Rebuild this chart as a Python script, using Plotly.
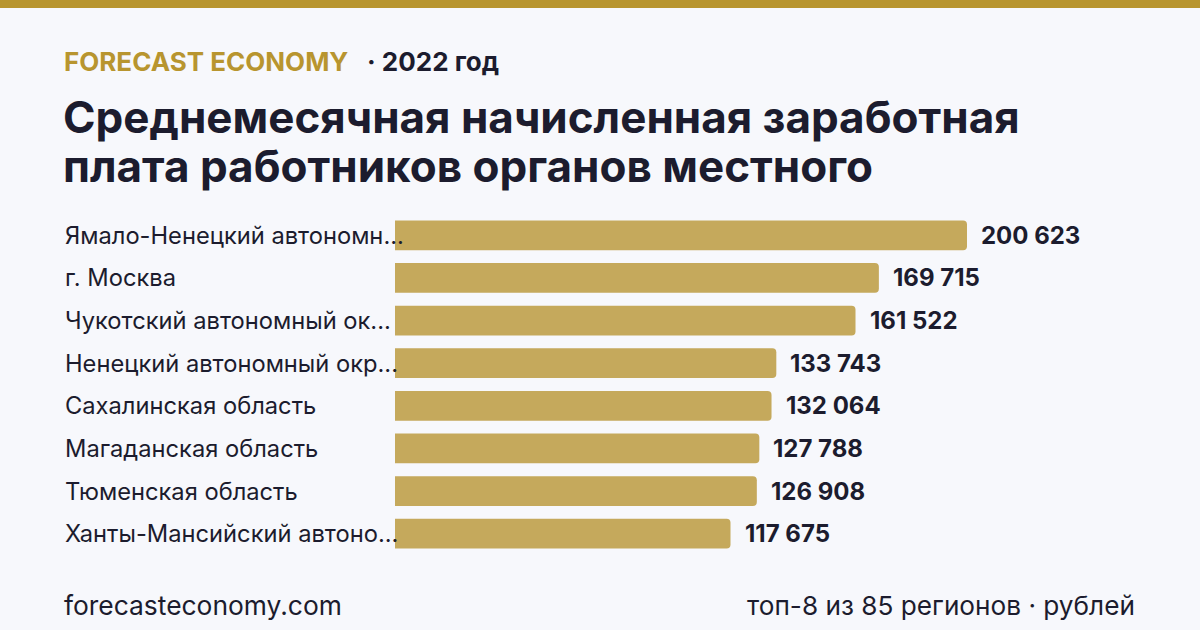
import plotly.graph_objects as go

regions = [
    "Ямало-Ненецкий автономн...",
    "г. Москва",
    "Чукотский автономный ок...",
    "Ненецкий автономный окр...",
    "Сахалинская область",
    "Магаданская область",
    "Тюменская область",
    "Ханты-Мансийский автоно...",
]
salaries = [200623, 169715, 161522, 133743, 132064, 127788, 126908, 117675]

brand = "FORECAST ECONOMY"
year_label = "· 2022 год"
title_lines = ["Среднемесячная начисленная заработная", "плата работников органов местного"]
footer_left = "forecasteconomy.com"
footer_right = "топ-8 из 85 регионов · рублей"

W, H = 1200, 630
ML, MR, MT, MB = 395, 65, 214, 75
PW, PH = W - ML - MR, H - MT - MB

def px_x(p):
    return (p - ML) / PW

def px_y(p):
    return (H - MB - p) / PH

BG = "#f7f8fc"
GOLD = "#b8952f"
BAR = "#c5a95c"
DARK = "#1c1c2e"
FONT = "Inter"

fmt = lambda v: f"{v:,}".replace(",", " ")

fig = go.Figure()
fig.add_trace(go.Bar(
    x=salaries, y=list(range(len(regions))), orientation="h",
    marker=dict(color=BAR, cornerradius=4, line=dict(width=0)),
    width=0.7, hoverinfo="skip",
))

annotations = []
for i, (r, v) in enumerate(zip(regions, salaries)):
    annotations.append(dict(
        x=px_x(63), xref="paper", y=i, yref="y", text=r, showarrow=False,
        xanchor="left", yanchor="middle", font=dict(family=FONT, size=23.7, color=DARK),
    ))
    annotations.append(dict(
        x=v, xref="x", y=i, yref="y", text=fmt(v), showarrow=False,
        xanchor="left", yanchor="middle", xshift=12,
        font=dict(family=FONT, size=24, color=DARK, weight=700),
    ))

annotations.append(dict(
    x=px_x(62), xref="paper", y=px_y(62), yref="paper", text=brand, showarrow=False,
    xanchor="left", yanchor="middle", font=dict(family=FONT, size=26, color=GOLD, weight=700),
))
annotations.append(dict(
    x=px_x(365), xref="paper", y=px_y(62), yref="paper", text=year_label, showarrow=False,
    xanchor="left", yanchor="middle", font=dict(family=FONT, size=26, color=DARK, weight=700),
))
for k, line in enumerate(title_lines):
    annotations.append(dict(
        x=px_x(61), xref="paper", y=px_y(117 + 49 * k), yref="paper", text=line, showarrow=False,
        xanchor="left", yanchor="middle", font=dict(family=FONT, size=44, color=DARK, weight=700),
    ))
annotations.append(dict(
    x=px_x(62), xref="paper", y=px_y(605), yref="paper", text=footer_left, showarrow=False,
    xanchor="left", yanchor="middle", font=dict(family=FONT, size=26.4, color=DARK),
))
annotations.append(dict(
    x=px_x(1137), xref="paper", y=px_y(605), yref="paper", text=footer_right, showarrow=False,
    xanchor="right", yanchor="middle", font=dict(family=FONT, size=26.2, color=DARK),
))

fig.update_layout(
    width=W, height=H,
    margin=dict(l=ML, r=MR, t=MT, b=MB, pad=0),
    paper_bgcolor=BG, plot_bgcolor=BG,
    showlegend=False,
    xaxis=dict(range=[0, 259550], visible=False, fixedrange=True),
    yaxis=dict(range=[len(regions) - 0.5, -0.5], visible=False, fixedrange=True),
    annotations=annotations,
    shapes=[dict(type="rect", xref="paper", yref="paper",
                 x0=px_x(0), x1=px_x(W), y0=px_y(8), y1=px_y(-2),
                 fillcolor=GOLD, line=dict(width=0), layer="above")],
)

fig.write_html("out.html", config={"displayModeBar": False})
